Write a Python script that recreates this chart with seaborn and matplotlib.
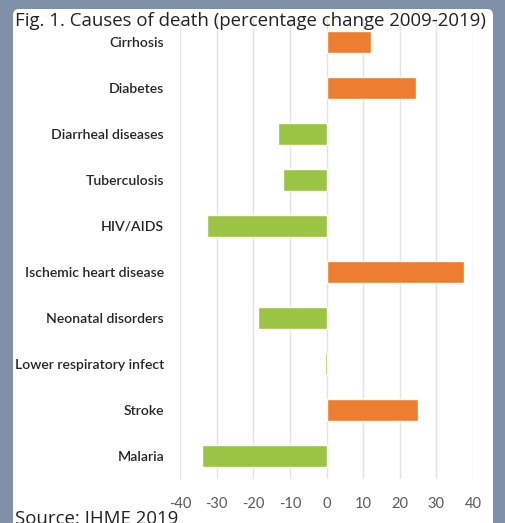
import matplotlib
matplotlib.use("Agg")
import matplotlib.pyplot as plt
from matplotlib.patches import FancyBboxPatch
import seaborn as sns
import pandas as pd

categories = ["Cirrhosis", "Diabetes", "Diarrheal diseases", "Tuberculosis", "HIV/AIDS",
              "Ischemic heart disease", "Neonatal disorders", "Lower respiratory infect",
              "Stroke", "Malaria"]
values = [12.1, 24.5, -13.2, -12.0, -32.7, 37.6, -18.6, -0.5, 25.1, -34.0]
xticks = [-40, -30, -20, -10, 0, 10, 20, 30, 40]
title = "Fig. 1. Causes of death (percentage change 2009-2019)"
source = "Source: IHME 2019"

df = pd.DataFrame({"cause": categories, "change": values})
df["direction"] = ["up" if v > 0 else "down" for v in values]

sns.set_theme(style="white")
plt.rcParams["font.family"] = ["Lato", "DejaVu Sans"]

W, H = 505, 523
fig = plt.figure(figsize=(W / 100, H / 100), dpi=100, facecolor="#8090a7")
panel = FancyBboxPatch((13 / W, -0.05), (493 - 13) / W, (H - 9) / H + 0.05,
                       boxstyle="round,pad=0,rounding_size=0.012",
                       transform=fig.transFigure, facecolor="white",
                       edgecolor="none", zorder=-10)
fig.patches.append(panel)

ax = fig.add_axes([180 / W, (H - 479) / H, (473 - 180) / W, (479 - 19) / H])
ax.set_zorder(1)
ax.set_facecolor("none")
sns.barplot(data=df, y="cause", x="change", hue="direction",
            palette={"up": "#ED7D31", "down": "#9BC444"}, dodge=False,
            legend=False, width=0.47, ax=ax, saturation=1, zorder=3)
ax.set_xlim(-40, 40)
ax.set_ylim(9.5, -0.5)
ax.set_xticks(xticks)
ax.set_xticklabels([str(t) for t in xticks], color="#595959", fontsize=10.5)
ax.set_yticklabels(categories, color="#262626", fontsize=10.1, fontweight="semibold")
ax.tick_params(axis="both", length=0)
ax.tick_params(axis="y", pad=11.5)
ax.tick_params(axis="x", pad=13)
ax.set_xlabel("")
ax.set_ylabel("")
for s in ax.spines.values():
    s.set_visible(False)
ax.grid(axis="x", color="#e3e3e3", linewidth=1, zorder=0)
ax.set_axisbelow(True)

fig.text(15 / W, (H - 21) / H, title, fontsize=13.45, color="#222222",
         ha="left", va="center", family=["Open Sans", "DejaVu Sans"], zorder=5)
fig.text(15 / W, (H - 519) / H, source, fontsize=13.45, color="#222222",
         ha="left", va="center", family=["Open Sans", "DejaVu Sans"], zorder=5)

fig.savefig("out.png", dpi=100, facecolor=fig.get_facecolor())
